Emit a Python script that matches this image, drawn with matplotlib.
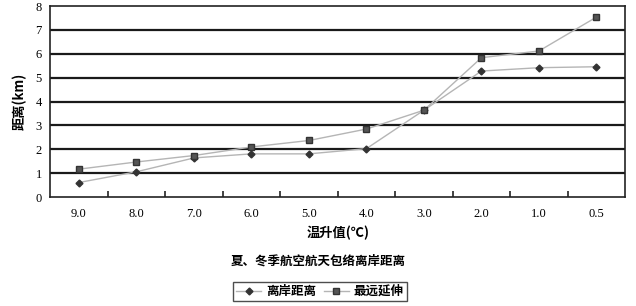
import matplotlib
matplotlib.use("Agg")
import matplotlib.pyplot as plt
import numpy as np

plt.rcParams['font.family'] = ['Liberation Serif', 'Noto Sans CJK SC']

# 数据
categories = ["9.0", "8.0", "7.0", "6.0", "5.0", "4.0", "3.0", "2.0", "1.0", "0.5"]
offshore = [0.61, 1.06, 1.64, 1.81, 1.81, 2.03, 3.64, 5.28, 5.42, 5.46]
farthest = [1.17, 1.47, 1.74, 2.10, 2.37, 2.85, 3.64, 5.84, 6.12, 7.54]
y_ticks = [0, 1, 2, 3, 4, 5, 6, 7, 8]

fig = plt.figure(figsize=(6.36, 3.06), dpi=100)
ax = fig.add_axes([0.079, 0.356, 0.904, 0.624])

x = np.arange(len(categories))

# 格线
for yv in y_ticks[1:-1]:
    ax.axhline(yv, color="#1a1a1a", lw=1.6, zorder=1)

ax.plot(x, offshore, color="#b5b5b5", lw=1.0, marker="D", markersize=3.5,
        markerfacecolor="#333333", markeredgecolor="#333333", label="离岸距离", zorder=3)
ax.plot(x, farthest, color="#b5b5b5", lw=1.0, marker="s", markersize=4.5,
        markerfacecolor="#555555", markeredgecolor="#333333", label="最远延伸", zorder=3)

ax.set_xlim(-0.5, len(categories) - 0.5)
ax.set_ylim(0, 8)
ax.set_yticks(y_ticks)
ax.set_yticklabels([str(v) for v in y_ticks], fontsize=9)
ax.set_xticks(x)
ax.set_xticklabels(categories, fontsize=9)
ax.set_xticks(x[:-1] + 0.5, minor=True)
ax.tick_params(axis="x", which="major", length=0, pad=8)
ax.tick_params(axis="x", which="minor", direction="in", length=4, width=1.2, color="#222222")
ax.tick_params(axis="y", length=0, pad=6)

for s in ax.spines.values():
    s.set_color("#222222")
    s.set_linewidth(1.2)

ax.set_ylabel("距离(km)", fontsize=9.5, fontweight="bold",
              family=["Noto Sans CJK SC", "DejaVu Sans"], labelpad=6)
ax.set_xlabel("温升值(℃)", fontsize=9.5, fontweight="bold",
              family=["Noto Sans CJK SC", "DejaVu Sans"], labelpad=4)

fig.text(0.5, 0.148, "夏、冬季航空航天包络离岸距离", ha="center", va="center",
         fontsize=9, fontweight="bold", family=["Noto Sans CJK SC", "DejaVu Sans"])

leg = fig.legend(loc="center", bbox_to_anchor=(0.503, 0.047), ncol=2,
                 prop={"family": ["Noto Sans CJK SC", "DejaVu Sans"], "size": 9, "weight": "bold"},
                 frameon=True, fancybox=False, edgecolor="#222222",
                 handlelength=2.0, handletextpad=0.4, columnspacing=0.6,
                 borderpad=0.25)
leg.get_frame().set_linewidth(1.0)

fig.savefig("out.png", dpi=100)
